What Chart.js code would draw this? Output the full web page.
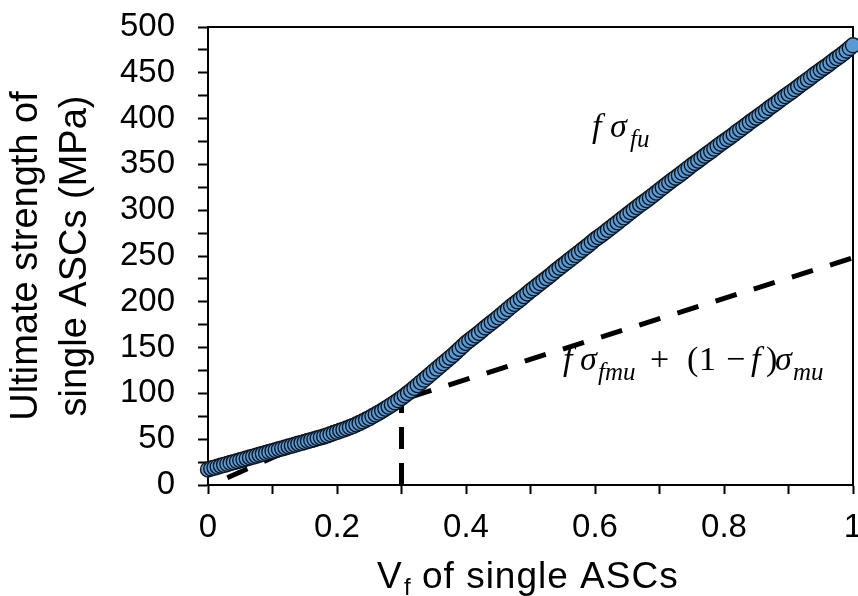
<!DOCTYPE html>
<html>
<head>
<meta charset="utf-8">
<title>Ultimate strength of single ASCs</title>
<script src="https://cdn.jsdelivr.net/npm/chart.js@4.4.1/dist/chart.umd.min.js"></script>
<style>
    html, body { margin: 0; padding: 0; background: #fff; }
    canvas { display: block; }
</style>
</head>
<body>
<canvas id="strengthChart" width="858" height="596"></canvas>
<script>
// fibre volume fraction (step 0.005) and ultimate strength (MPa)
const vf = [
    0.000, 0.005, 0.010, 0.015, 0.020, 0.025, 0.030, 0.035, 0.040, 0.045,
    0.050, 0.055, 0.060, 0.065, 0.070, 0.075, 0.080, 0.085, 0.090, 0.095,
    0.100, 0.105, 0.110, 0.115, 0.120, 0.125, 0.130, 0.135, 0.140, 0.145,
    0.150, 0.155, 0.160, 0.165, 0.170, 0.175, 0.180, 0.185, 0.190, 0.195,
    0.200, 0.205, 0.210, 0.215, 0.220, 0.225, 0.230, 0.235, 0.240, 0.245,
    0.250, 0.255, 0.260, 0.265, 0.270, 0.275, 0.280, 0.285, 0.290, 0.295,
    0.300, 0.305, 0.310, 0.315, 0.320, 0.325, 0.330, 0.335, 0.340, 0.345,
    0.350, 0.355, 0.360, 0.365, 0.370, 0.375, 0.380, 0.385, 0.390, 0.395,
    0.400, 0.405, 0.410, 0.415, 0.420, 0.425, 0.430, 0.435, 0.440, 0.445,
    0.450, 0.455, 0.460, 0.465, 0.470, 0.475, 0.480, 0.485, 0.490, 0.495,
    0.500, 0.505, 0.510, 0.515, 0.520, 0.525, 0.530, 0.535, 0.540, 0.545,
    0.550, 0.555, 0.560, 0.565, 0.570, 0.575, 0.580, 0.585, 0.590, 0.595,
    0.600, 0.605, 0.610, 0.615, 0.620, 0.625, 0.630, 0.635, 0.640, 0.645,
    0.650, 0.655, 0.660, 0.665, 0.670, 0.675, 0.680, 0.685, 0.690, 0.695,
    0.700, 0.705, 0.710, 0.715, 0.720, 0.725, 0.730, 0.735, 0.740, 0.745,
    0.750, 0.755, 0.760, 0.765, 0.770, 0.775, 0.780, 0.785, 0.790, 0.795,
    0.800, 0.805, 0.810, 0.815, 0.820, 0.825, 0.830, 0.835, 0.840, 0.845,
    0.850, 0.855, 0.860, 0.865, 0.870, 0.875, 0.880, 0.885, 0.890, 0.895,
    0.900, 0.905, 0.910, 0.915, 0.920, 0.925, 0.930, 0.935, 0.940, 0.945,
    0.950, 0.955, 0.960, 0.965, 0.970, 0.975, 0.980, 0.985, 0.990, 0.995,
    1.000
];
const strength = [
    17, 18, 19, 20, 21, 22, 23, 24, 25, 26,
    27, 28, 29, 30, 31, 32, 33, 34, 35, 36,
    37, 38, 39, 40, 41, 42, 43, 44, 45, 46,
    47, 48, 49, 50, 51, 52, 53, 54.2, 55.5, 56.7,
    58, 59.2, 60.5, 61.7, 63, 64.5, 66, 67.7, 69.5, 71.2,
    73, 75, 77, 79, 81, 83.2, 85.5, 87.7, 90, 92.5,
    95, 97.7, 100.5, 103.2, 106, 109, 112, 115, 118, 121,
    124, 127, 130, 133, 136, 139, 142, 145.2, 148.5, 151.7,
    155, 157.7, 160.5, 163.2, 166, 169, 172, 174.7, 177.5, 180.2,
    183, 186, 189, 192, 195, 197.7, 200.5, 203.2, 206, 209,
    212, 214.7, 217.5, 220.2, 223, 225.7, 228.5, 231.5, 234.5, 237.2,
    240, 242.7, 245.5, 248.2, 251, 253.7, 256.5, 259.2, 262, 265,
    268, 270.5, 273, 275.7, 278.5, 281.2, 284, 286.7, 289.5, 292.2,
    295, 297.7, 300.5, 303.2, 306, 308.5, 311, 313.7, 316.5, 319.2,
    322, 324.7, 327.5, 330.2, 333, 335.5, 338, 340.7, 343.5, 346.2,
    349, 351.5, 354, 356.7, 359.5, 362, 364.5, 367.2, 370, 372.5,
    375, 377.5, 380, 382.7, 385.5, 388, 390.5, 393.2, 396, 398.5,
    401, 403.5, 406, 408.7, 411.5, 414, 416.5, 419.2, 422, 424.5,
    427, 429.5, 432, 434.7, 437.5, 440, 442.5, 445.2, 448, 450.5,
    453, 455.5, 458, 460.7, 463.5, 466, 468.5, 471.2, 474, 477,
    480
];

// rule-of-mixtures line and the critical fraction marker
const mixX = [0.03, 0.3, 1];
const mixY = [8, 93, 248];
const critX = [0.3, 0.3];
const critY = [0, 95];

const xLabelled = [0, 0.2, 0.4, 0.6, 0.8, 1];
const yLabelled = [0, 50, 100, 150, 200, 250, 300, 350, 400, 450, 500];

const toPoints = (xs, ys) => xs.map((x, i) => ({ x: x, y: ys[i] }));

const SANS = 'Arial, "Liberation Sans", sans-serif';
const SERIF = '"Liberation Serif", "Times New Roman", serif';

// math labels: [text, x, kind]  kind: i = italic, s = italic subscript, r = roman
const fuLabel = { base: 137, parts: [['f', 592, 'i'], ['σ', 610, 'i'], ['fu', 630, 's']] };
const mixLabel = {
    base: 370,
    parts: [
        ['f', 563, 'i'], ['σ', 580, 'i'], ['fmu', 598, 's'],
        ['+', 650, 'r'], ['(', 687, 'r'], ['1', 699, 'r'], ['−', 726, 'r'],
        ['f', 751, 'i'], [')', 766, 'r'], ['σ', 775, 'i'], ['mu', 793, 's']
    ]
};

function drawMath(ctx, label) {
    label.parts.forEach(([t, x, kind]) => {
        if (kind === 's') {
            ctx.font = 'italic 25px ' + SERIF;
            ctx.fillText(t, x, label.base + 10);
        } else {
            ctx.font = (kind === 'i' ? 'italic ' : '') + '34px ' + SERIF;
            ctx.fillText(t, x, label.base);
        }
    });
}

const decorations = {
    id: 'decorations',
    beforeDatasetsDraw(chart) {
        const { ctx, chartArea: a } = chart;
        ctx.save();
        ctx.strokeStyle = '#000';
        ctx.lineWidth = 2;
        ctx.beginPath();
        ctx.moveTo(a.left - 1, a.top);
        ctx.lineTo(a.right, a.top);
        ctx.lineTo(a.right, a.bottom);
        ctx.stroke();
        ctx.restore();
    },
    afterDraw(chart) {
        const { ctx } = chart;
        ctx.save();
        ctx.fillStyle = '#000';
        ctx.textBaseline = 'alphabetic';
        ctx.textAlign = 'left';

        // x axis title with subscript f
        ctx.font = '37px ' + SANS;
        ctx.fillText('V', 377, 588);
        ctx.font = '24px ' + SANS;
        ctx.fillText('f', 404, 595);
        ctx.font = '37px ' + SANS;
        ctx.letterSpacing = '1px';
        ctx.fillText('of single ASCs', 422, 588);
        ctx.letterSpacing = '0px';

        drawMath(ctx, fuLabel);
        drawMath(ctx, mixLabel);
        ctx.restore();
    }
};

const ctx = document.getElementById('strengthChart').getContext('2d');

new Chart(ctx, {
    type: 'scatter',
    data: {
        datasets: [
            {
                label: 'Ultimate strength',
                data: toPoints(vf, strength),
                backgroundColor: '#5b9bd5',
                borderColor: '#0e1620',
                borderWidth: 1.4,
                pointRadius: 7.5,
                pointHoverRadius: 7.5,
                clip: false,
                order: 0
            },
            {
                label: 'Rule of mixtures',
                data: toPoints(mixX, mixY),
                showLine: true,
                borderColor: '#000',
                borderWidth: 5,
                borderDash: [22, 18],
                pointRadius: 0,
                fill: false,
                order: 1
            },
            {
                label: 'Critical Vf',
                data: toPoints(critX, critY),
                showLine: true,
                borderColor: '#000',
                borderWidth: 5,
                borderDash: [22, 14],
                pointRadius: 0,
                fill: false,
                order: 2
            }
        ]
    },
    options: {
        responsive: false,
        animation: false,
        events: [],
        layout: {
            autoPadding: false,
            padding: { left: 0, right: 5, top: 27, bottom: 0 }
        },
        plugins: {
            legend: { display: false },
            tooltip: { enabled: false }
        },
        scales: {
            x: {
                type: 'linear',
                min: 0,
                max: 1,
                afterFit: (scale) => {
                    scale.height = 111;
                    scale.paddingLeft = 0;
                    scale.paddingRight = 0;
                },
                border: { display: true, color: '#000', width: 2 },
                grid: {
                    drawOnChartArea: false,
                    drawTicks: true,
                    tickLength: 9,
                    tickColor: '#000',
                    tickWidth: 2
                },
                ticks: {
                    stepSize: 0.1,
                    autoSkip: false,
                    maxRotation: 0,
                    padding: 14,
                    color: '#000',
                    font: { family: SANS, size: 33 },
                    callback: (v) => {
                        const r = Math.round(v * 10) / 10;
                        return xLabelled.includes(r) ? String(r) : '';
                    }
                }
            },
            y: {
                min: 0,
                max: 500,
                afterFit: (scale) => {
                    scale.width = 208;
                    scale.paddingTop = 0;
                    scale.paddingBottom = 0;
                },
                border: { display: true, color: '#000', width: 2 },
                grid: {
                    drawOnChartArea: false,
                    drawTicks: true,
                    tickLength: 10,
                    tickColor: '#000',
                    tickWidth: 2
                },
                ticks: {
                    stepSize: 25,
                    autoSkip: false,
                    padding: 23,
                    color: '#000',
                    font: { family: SANS, size: 33 },
                    callback: (v) => yLabelled.includes(v) ? String(v) : ''
                },
                title: {
                    display: true,
                    text: ['Ultimate strength of', 'single ASCs (MPa)'],
                    color: '#000',
                    font: { family: SANS, size: 38, lineHeight: 1.29 },
                    padding: { top: 2, bottom: 0 }
                }
            }
        }
    },
    plugins: [decorations]
});
</script>
</body>
</html>
